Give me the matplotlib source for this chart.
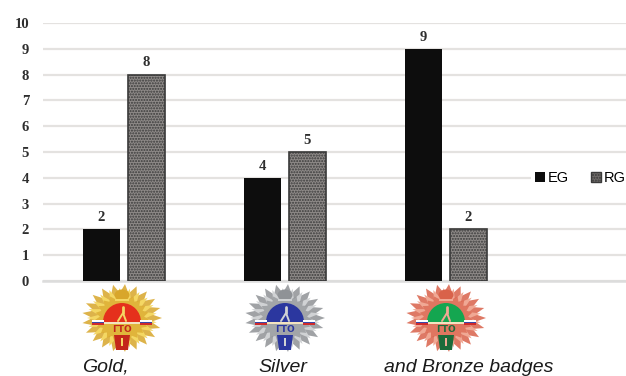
import numpy as np
import matplotlib
matplotlib.use('Agg')
import matplotlib.pyplot as plt
from matplotlib.patches import Polygon, Wedge, Rectangle, Patch, Ellipse

categories = ['Gold,', 'Silver', 'and Bronze badges']
eg_values = [2, 4, 9]
rg_values = [8, 5, 2]
y_ticks = list(range(0, 11))
series_names = ['EG', 'RG']

# colours per badge: rays, highlight, dome, shield
badge_colors = [
    ('#d8a62a', '#f4d763', '#e5301c', '#c4261a'),
    ('#8f9296', '#d0d2d4', '#2b379f', '#2b379f'),
    ('#d9624a', '#f0a894', '#14a650', '#1c6b3a'),
]
badge_x = [122, 285, 446]
label_x = [105.5, 283, 468.5]

LABEL_FONT = 'Liberation Serif'
TEXT_DARK = '#2e2e2e'


def star_points(cx, cy, rx, ry, n, inner, phase=0.0):
    # alternating outer and inner radius around the centre
    ang = np.linspace(0, 2 * np.pi, 2 * n, endpoint=False) + phase
    k = np.where(np.arange(2 * n) % 2 == 0, 1.0, inner)
    return np.column_stack([cx + rx * k * np.cos(ang), cy + ry * k * np.sin(ang)])


def draw_badge(ax, cx, cy, colors):
    rays, light, dome, shield = colors
    ax.add_patch(Polygon(star_points(cx, cy, 40, 34, 21, 0.74), color=rays, lw=0, alpha=0.85))
    ax.add_patch(Polygon(star_points(cx, cy, 35, 30, 21, 0.68, 0.15), color=light, lw=0))
    ax.add_patch(Polygon(star_points(cx, cy, 27, 24, 21, 0.82, 0.07), color=rays, lw=0, alpha=0.7))

    # crown at the top
    ax.add_patch(Ellipse((cx, cy - 23), 15, 11, color=rays, lw=0))
    ax.add_patch(Rectangle((cx - 7, cy - 19), 14, 2, color=light, lw=0))

    # dome with the runner
    ax.add_patch(Wedge((cx, cy + 4), 19, 180, 360, color=dome, lw=0))
    ax.plot([cx - 4, cx + 1, cx + 4], [cy + 3, cy - 5, cy + 3], color=light, lw=1.4, solid_capstyle='round')
    ax.plot([cx + 1, cx + 1], [cy - 5, cy - 11], color=light, lw=2.0, solid_capstyle='round')

    # ribbon either side of the dome
    for x0 in (cx - 30, cx + 18):
        ax.add_patch(Rectangle((x0, cy + 2), 12, 1.7, color='white', lw=0))
        ax.add_patch(Rectangle((x0, cy + 3.7), 12, 1.7, color='#3b47a8', lw=0))
        ax.add_patch(Rectangle((x0, cy + 5.4), 12, 1.7, color='#cf2b2b', lw=0))
    ax.add_patch(Rectangle((cx - 18, cy + 4), 36, 2, color='#f3e3c0', lw=0))

    ax.text(cx, cy + 12, 'ГТО', ha='center', va='center', fontsize=6.5, fontweight='bold',
            color=shield, family='DejaVu Sans')
    ax.add_patch(Polygon([(cx - 8, cy + 17), (cx + 8, cy + 17), (cx + 6, cy + 32), (cx - 6, cy + 32)],
                         color=shield, lw=0))
    ax.add_patch(Rectangle((cx - 1, cy + 20), 2, 8, color=light, lw=0))


fig = plt.figure(figsize=(6.26, 3.76), dpi=100)
ax = fig.add_axes([43 / 626, 1 - 281 / 376, 583 / 626, 258 / 376])

x = np.arange(len(categories))
width = 37 / 161
offset = 22.5 / 161

ax.bar(x - offset, eg_values, width, color='#0d0d0d', label=series_names[0], zorder=3)
ax.bar(x + offset, rg_values, width, color='#8e8a88', edgecolor='#3a3a3a', hatch='......',
       linewidth=1.2, label=series_names[1], zorder=3)

for xi, v in zip(x - offset, eg_values):
    ax.text(xi, v + 0.2, str(v), ha='center', va='bottom', family=LABEL_FONT, fontweight='bold',
            fontsize=10.5, color=TEXT_DARK)
for xi, v in zip(x + offset, rg_values):
    ax.text(xi, v + 0.2, str(v), ha='center', va='bottom', family=LABEL_FONT, fontweight='bold',
            fontsize=10.5, color=TEXT_DARK)

ax.set_xlim(-0.5, 583 / 161 - 0.5)
ax.set_ylim(0, 10)
ax.set_yticks(y_ticks)
ax.set_yticklabels(y_ticks, family=LABEL_FONT, fontweight='bold', fontsize=10.5, color=TEXT_DARK)
ax.set_xticks([])
ax.tick_params(axis='y', length=0, pad=10)
ax.grid(axis='y', color='#e4e2e0', linewidth=1.6, zorder=0)
ax.set_axisbelow(True)
for side in ['top', 'right', 'left']:
    ax.spines[side].set_visible(False)
ax.spines['bottom'].set_color('#dcdcdc')
ax.spines['bottom'].set_linewidth(1.8)

handles = [Patch(facecolor='#0d0d0d', label=series_names[0]),
           Patch(facecolor='#6f6b69', edgecolor='#3a3a3a', hatch='......', label=series_names[1])]
leg = fig.legend(handles=handles, ncol=2, loc='center right', bbox_to_anchor=(1.019, 1 - 178 / 376),
                 frameon=True, framealpha=1, edgecolor='none', facecolor='white', fancybox=False,
                 handlelength=0.7, handleheight=0.7, handletextpad=0.2,
                 columnspacing=1.5, borderpad=0.3, prop={'family': 'Liberation Sans', 'size': 10.5})

# badges and captions sit under the bars, placed in pixel coordinates
overlay = fig.add_axes([0, 0, 1, 1], facecolor='none')
overlay.set_xlim(0, 626)
overlay.set_ylim(376, 0)
overlay.axis('off')
for cx, colors in zip(badge_x, badge_colors):
    draw_badge(overlay, cx, 318, colors)
for lx, name in zip(label_x, categories):
    overlay.text(lx, 367, name, ha='center', va='center', style='italic', family='Liberation Sans',
                 fontsize=14, color='#1a1a1a')

fig.savefig('out.png', dpi=100)
